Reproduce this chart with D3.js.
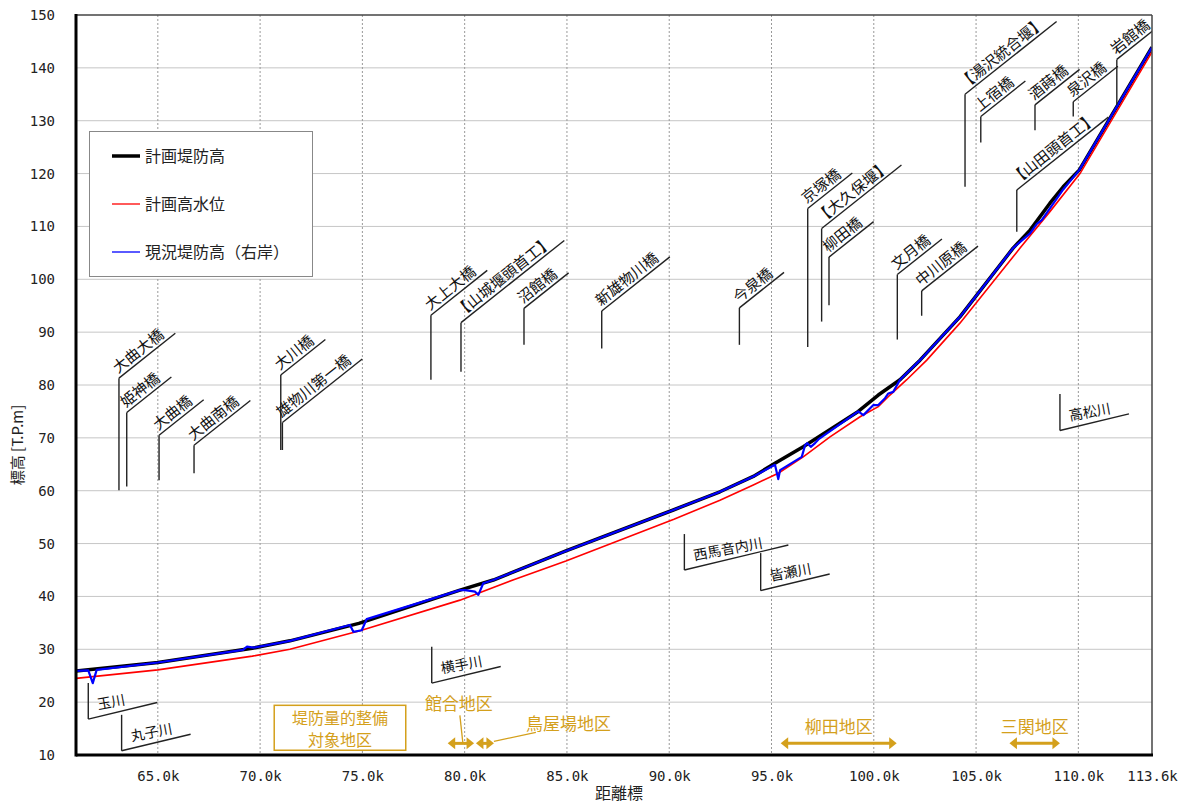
<!DOCTYPE html>
<html><head><meta charset="utf-8">
<script src="https://cdn.jsdelivr.net/npm/d3@7"></script>
<style>
body{margin:0;background:#fff;}
text{font-family:"Noto Sans CJK JP","Noto Sans",sans-serif;}
.num{font-family:"DejaVu Sans Mono",monospace;}
</style>
</head><body><svg id="c" width="1181" height="805"></svg>
<script>
// ---------- data ----------
const xTicks=[65,70,75,80,85,90,95,100,105,110,113.6];
const yTicks=[10,20,30,40,50,60,70,80,90,100,110,120,130,140,150];

const seriesNames=["計画堤防高","計画高水位","現況堤防高（右岸）"];

const planLeveeKm=[61.0,65.01,69.62,71.46,74.83,79.77,81.40,84.95,90.23,92.48,94.11,95.17,96.55,99.24,100.22,101.28,102.26,104.21,106.81,107.64,108.61,109.26,110.05,113.6];
const planLeveeElev=[25.9,27.5,30.2,31.6,34.9,41.2,43.1,48.6,56.4,59.8,62.7,65.2,68.3,75.0,78.1,81.0,84.7,92.9,105.9,109.3,114.4,117.5,120.7,143.9];

const hwlKm=[61.0,65.0,69.62,71.46,74.88,79.77,82.36,84.95,90.23,92.48,94.11,95.33,96.55,97.86,99.33,100.22,100.79,101.61,102.59,104.21,107.15,108.61,110.08,113.6];
const hwlElev=[24.5,26.1,28.7,30.0,33.5,39.3,43.1,46.7,54.6,58.2,61.1,63.3,66.4,70.2,74.0,75.9,78.1,81.0,84.7,91.7,105.9,112.8,120.0,143.0];

const currentKm=[61.0,61.60,61.82,62.01,65.01,69.16,69.36,69.67,71.46,74.39,74.56,74.97,75.21,79.77,80.02,80.51,80.67,80.91,81.40,84.95,90.23,92.48,94.11,95.17,95.33,95.42,96.48,96.64,96.75,96.92,97.13,97.29,99.24,99.49,99.98,100.22,100.55,100.71,100.95,101.28,102.26,104.21,106.81,107.64,107.97,108.21,108.61,109.26,110.05,113.6];
const currentElev=[25.9,26.0,23.6,26.1,27.5,29.9,30.5,30.3,31.6,34.6,33.3,33.6,35.7,41.2,41.2,40.9,40.3,42.5,43.1,48.6,56.4,59.8,62.7,64.9,62.2,63.9,66.4,68.6,69.0,68.3,69.0,69.7,75.0,74.3,76.2,76.2,77.5,78.4,78.7,81.0,84.7,92.9,105.9,108.7,110.5,111.2,113.4,117.0,120.7,143.9];

const bridgeNames=["大曲大橋","姫神橋","大曲橋","大曲南橋","大川橋","雄物川第一橋","大上大橋","【山城堰頭首工】","沼館橋","新雄物川橋","今泉橋","京塚橋","【大久保堰】","柳田橋","文月橋","中川原橋","【山田頭首工】","【湯沢統合堰】","上宿橋","酒蒔橋","泉沢橋","岩館橋"];
const bridgeKm=[63.10,63.48,65.06,66.77,71.01,71.09,78.35,79.82,82.90,86.70,93.43,96.77,97.45,97.81,101.15,102.34,106.99,104.46,105.23,107.88,109.75,111.88];
const bridgeLow=[60.1,60.8,62.0,63.3,67.7,67.7,81.0,82.5,87.6,86.9,87.6,87.2,92.0,95.1,88.6,93.1,109.0,117.5,125.9,128.2,130.8,133.0];
const bridgeHigh=[81.3,74.8,70.5,68.6,81.9,72.9,93.2,91.8,94.5,94.0,94.6,113.4,109.6,104.2,100.9,97.8,116.9,135.0,130.8,133.0,133.6,141.6];

const riverNames=["玉川","丸子川","横手川","西馬音内川","皆瀬川","高松川"];
const riverKm=[61.60,63.23,78.39,90.74,94.47,109.10];
const riverTop=[23.6,17.6,30.5,51.8,48.2,78.3];
const riverCorner=[16.8,10.8,23.6,45.0,41.1,71.4];

const districtNames=["館合地区","鳥屋場地区","柳田地区","三関地区"];
const districtFrom=[79.17,80.55,95.45,106.63];
const districtTo=[80.46,81.43,101.12,109.10];
const districtElev=[12.2,12.2,12.2,12.2];
const targetLabel=["堤防量的整備","対象地区"];

// ---------- layout ----------
const m={l:76,r:1152,t:15,b:755};
const svg=d3.select("#c");
const x=d3.scaleLinear().domain([61.0,113.6]).range([m.l,m.r]);
const y=d3.scaleLinear().domain([10,150]).range([m.b,m.t]);
const gold="#d4a01c";

// gridlines
svg.append("g").selectAll("line").data(yTicks.filter(v=>v>10&&v<150)).join("line")
  .attr("x1",m.l).attr("x2",m.r).attr("y1",d=>y(d)).attr("y2",d=>y(d))
  .attr("stroke","#c6c6c6").attr("stroke-width",1);
svg.append("g").selectAll("line").data(xTicks.filter(v=>v<113.6)).join("line")
  .attr("x1",d=>x(d)).attr("x2",d=>x(d)).attr("y1",m.t).attr("y2",m.b)
  .attr("stroke","#999").attr("stroke-width",1).attr("stroke-dasharray","2,2");

// axes
const xa=svg.append("g").attr("transform",`translate(0,${m.b})`)
  .call(d3.axisBottom(x).tickValues(xTicks).tickFormat(d=>d.toFixed(1)+"k").tickSize(0).tickPadding(16));
xa.select(".domain").remove();
xa.selectAll("text").attr("class","num").attr("font-size",14).attr("fill","#222");
const ya=svg.append("g").attr("transform",`translate(${m.l},0)`)
  .call(d3.axisLeft(y).tickValues(yTicks).tickSize(0).tickPadding(21));
ya.select(".domain").remove();
ya.selectAll("text").attr("class","num").attr("font-size",14).attr("fill","#222");

svg.append("text").attr("x",(m.l+m.r)/2+5).attr("y",799).attr("text-anchor","middle")
  .attr("font-size",16).attr("fill","#222").text("距離標");
svg.append("text").attr("transform","translate(23,445) rotate(-90)").attr("text-anchor","middle")
  .attr("font-size",15).attr("fill","#222").text("標高 [T.P.m]");

// clip
svg.append("clipPath").attr("id","clip").append("rect")
  .attr("x",m.l).attr("y",m.t).attr("width",m.r-m.l).attr("height",m.b-m.t);

// series
const line=d3.line().x(d=>x(d[0])).y(d=>y(d[1]));
const pg=svg.append("g").attr("clip-path","url(#clip)");
pg.append("path").datum(d3.zip(planLeveeKm,planLeveeElev)).attr("d",line)
  .attr("fill","none").attr("stroke","#000").attr("stroke-width",3.5).attr("stroke-linejoin","round");
pg.append("path").datum(d3.zip(hwlKm,hwlElev)).attr("d",line)
  .attr("fill","none").attr("stroke","#ff0000").attr("stroke-width",1.6);
pg.append("path").datum(d3.zip(currentKm,currentElev)).attr("d",line)
  .attr("fill","none").attr("stroke","#0000ff").attr("stroke-width",2.2).attr("stroke-linejoin","round");

// bridge annotations
const ag=svg.append("g").attr("clip-path","url(#clip)");
const ba=38.5, br=ba*Math.PI/180;
bridgeNames.forEach((name,i)=>{
  const cx=x(bridgeKm[i]), cy=y(bridgeHigh[i]), by=y(bridgeLow[i]);
  ag.append("line").attr("x1",cx).attr("x2",cx).attr("y1",by).attr("y2",cy)
    .attr("stroke","#222").attr("stroke-width",1.4);
  const t=ag.append("text").attr("font-size",15).attr("fill","#111").text(name)
    .attr("transform",`translate(${cx},${cy}) rotate(${-ba}) translate(2,-4)`);
  const len=t.node().getComputedTextLength()+12;
  ag.append("line").attr("x1",cx).attr("y1",cy)
    .attr("x2",cx+len*Math.cos(br)).attr("y2",cy-len*Math.sin(br))
    .attr("stroke","#222").attr("stroke-width",1.4);
});

// river annotations
const ra=13.5, rr=ra*Math.PI/180;
riverNames.forEach((name,i)=>{
  const cx=x(riverKm[i]), cy=y(riverCorner[i]), ty=y(riverTop[i]);
  ag.append("line").attr("x1",cx).attr("x2",cx).attr("y1",ty).attr("y2",cy)
    .attr("stroke","#222").attr("stroke-width",1.4);
  const t=ag.append("text").attr("font-size",14).attr("fill","#111").text(name)
    .attr("transform",`translate(${cx},${cy}) rotate(${-ra}) translate(12,-7) rotate(3)`);
  const dx=Math.max(69,13+t.node().getComputedTextLength()*1.3);
  ag.append("line").attr("x1",cx).attr("y1",cy)
    .attr("x2",cx+dx).attr("y2",cy-dx*Math.tan(rr))
    .attr("stroke","#222").attr("stroke-width",1.4);
});

// districts
function arrow(g,x1,x2,yy){
  const h=7.5, w=6;
  g.append("line").attr("x1",x1+h-1).attr("x2",x2-h+1).attr("y1",yy).attr("y2",yy)
    .attr("stroke",gold).attr("stroke-width",3);
  g.append("path").attr("d",`M${x1},${yy}L${x1+h},${yy-w}L${x1+h},${yy+w}Z`).attr("fill",gold);
  g.append("path").attr("d",`M${x2},${yy}L${x2-h},${yy-w}L${x2-h},${yy+w}Z`).attr("fill",gold);
}
const dg=svg.append("g");
districtNames.forEach((name,i)=>{
  const x1=x(districtFrom[i]), x2=x(districtTo[i]), yy=y(districtElev[i]);
  arrow(dg,x1,x2,yy);
  const mid=(x1+x2)/2;
  if(i===0){
    dg.append("text").attr("x",mid-2).attr("y",yy-33).attr("text-anchor","middle")
      .attr("font-size",17).attr("fill",gold).text(name);
    dg.append("line").attr("x1",mid-1).attr("y1",yy-28).attr("x2",mid+2).attr("y2",yy)
      .attr("stroke",gold).attr("stroke-width",1.3);
  } else if(i===1){
    dg.append("text").attr("x",x2+32).attr("y",yy-13).attr("font-size",17).attr("fill",gold).text(name);
    dg.append("line").attr("x1",x2).attr("y1",yy-2).attr("x2",x2+42).attr("y2",yy-11)
      .attr("stroke",gold).attr("stroke-width",1.3);
  } else {
    dg.append("text").attr("x",mid).attr("y",yy-10).attr("text-anchor","middle")
      .attr("font-size",17).attr("fill",gold).text(name);
  }
});
// target box
const bx1=x(70.69), bx2=x(77.12), by1=y(19.4), by2=y(10.9);
dg.append("rect").attr("x",bx1).attr("y",by1).attr("width",bx2-bx1).attr("height",by2-by1)
  .attr("fill","#fff").attr("stroke",gold).attr("stroke-width",1.5);
targetLabel.forEach((s,i)=>{
  dg.append("text").attr("x",(bx1+bx2)/2).attr("y",by1+19+i*22).attr("text-anchor","middle")
    .attr("font-size",16).attr("fill",gold).text(s);
});

// borders
svg.append("line").attr("x1",m.l).attr("x2",m.r).attr("y1",m.t).attr("y2",m.t).attr("stroke","#444").attr("stroke-width",1.5);
svg.append("line").attr("x1",m.r).attr("x2",m.r).attr("y1",m.t).attr("y2",m.b).attr("stroke","#444").attr("stroke-width",1.5);
svg.append("line").attr("x1",m.l).attr("x2",m.l).attr("y1",m.t-1).attr("y2",m.b+1.5).attr("stroke","#000").attr("stroke-width",3);
svg.append("line").attr("x1",m.l).attr("x2",m.r+1).attr("y1",m.b).attr("y2",m.b).attr("stroke","#000").attr("stroke-width",3);

// legend
const lg=svg.append("g");
lg.append("rect").attr("x",89.5).attr("y",131.5).attr("width",223).attr("height",145)
  .attr("fill","#fff").attr("stroke","#888").attr("stroke-width",1);
const legColors=["#000","#ff0000","#0000ff"], legW=[3.5,1.3,1.3];
seriesNames.forEach((s,i)=>{
  const yy=156+i*48;
  lg.append("line").attr("x1",112).attr("x2",140).attr("y1",yy).attr("y2",yy)
    .attr("stroke",legColors[i]).attr("stroke-width",legW[i]);
  lg.append("text").attr("x",145).attr("y",yy).attr("dy","0.35em").attr("font-size",16)
    .attr("fill","#222").text(s);
});
</script>
</body></html>
